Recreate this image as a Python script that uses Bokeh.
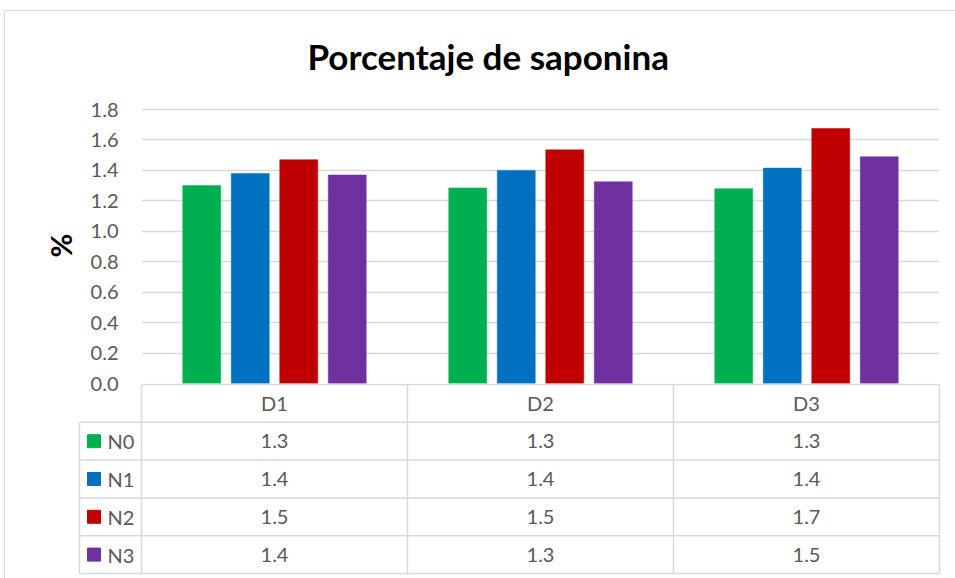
import numpy as np
from bokeh.plotting import figure
from bokeh.models import Range1d, FixedTicker, NumeralTickFormatter, Div
from bokeh.embed import file_html
from bokeh.resources import INLINE
from bokeh.core.properties import value

# ---------------- data ----------------
categories = ["D1", "D2", "D3"]
series = ["N0", "N1", "N2", "N3"]
n0 = [1.30, 1.285, 1.28]
n1 = [1.38, 1.40, 1.415]
n2 = [1.47, 1.535, 1.675]
n3 = [1.37, 1.325, 1.49]
colors = ["#00B050", "#0070C0", "#C00000", "#7030A0"]
y_ticks = [0.0, 0.2, 0.4, 0.6, 0.8, 1.0, 1.2, 1.4, 1.6, 1.8]
title_text = "Porcentaje de saponina"
y_label = "%"

values = [n0, n1, n2, n3]

# ---------------- style / layout constants ----------------
FONT = "Lato"
GRAY = "#595959"
GRID = "#d9d9d9"
CAT_PX = 266.0            # pixels per category
BAR_W = 38 / CAT_PX       # bar width in category units
STEP = 48.5 / CAT_PX      # bar spacing in category units
LEG_W = 62 / CAT_PX       # legend column width in category units
NCAT = len(categories)
FRAME_W = int(NCAT * CAT_PX)
FRAME_H = 276
Y_END = 1.8 + 2 / 152.2
OVERLAP = 12

# ---------------- chart ----------------
p = figure(
    frame_width=FRAME_W, frame_height=FRAME_H,
    x_range=Range1d(0, NCAT), y_range=Range1d(0, Y_END),
    output_backend="svg", toolbar_location=None,
    min_border_left=141, min_border_right=0, min_border_top=107, min_border_bottom=OVERLAP,
    title=title_text,
)
p.outline_line_color = None
p.background_fill_color = None
p.border_fill_color = None
p.xaxis.visible = False
p.xgrid.visible = False
p.ygrid.grid_line_color = GRID
p.ygrid.grid_line_width = 1.5
p.yaxis.ticker = FixedTicker(ticks=y_ticks)
p.yaxis.formatter = NumeralTickFormatter(format="0.0")
p.yaxis.axis_line_color = None
p.yaxis.major_tick_line_color = None
p.yaxis.major_tick_out = 0
p.yaxis.major_tick_in = 0
p.yaxis.minor_tick_line_color = None
p.yaxis.major_label_text_font = FONT
p.yaxis.major_label_text_font_size = "20px"
p.yaxis.major_label_text_color = GRAY
p.yaxis.major_label_standoff = 23
p.yaxis.axis_label = y_label
p.yaxis.axis_label_text_font = FONT
p.yaxis.axis_label_text_font_size = "29px"
p.yaxis.axis_label_text_font_style = "bold"
p.yaxis.axis_label_text_color = "#000000"
p.yaxis.axis_label_standoff = 10

p.title.text_font = FONT
p.title.text_font_size = "35px"
p.title.text_font_style = "bold"
p.title.text_color = "#000000"
p.title.align = "left"
p.title.offset = 166
p.title.standoff = 62

for k, vals in enumerate(values):
    xs = [i + 0.5 + (k - 1.5) * STEP for i in range(NCAT)]
    p.vbar(x=xs, top=vals, width=BAR_W, bottom=0,
           fill_color=colors[k], line_color=colors[k], line_width=0.5)

# ---------------- data table ----------------
nrows = len(series) + 1
T_FRAME_H = 192
ROW_PX = (T_FRAME_H - 3) / nrows
t = figure(
    frame_width=FRAME_W + 65 + 3, frame_height=T_FRAME_H,
    x_range=Range1d(-65 / CAT_PX, NCAT + 3 / CAT_PX),
    y_range=Range1d(nrows + 2 / ROW_PX, -1 / ROW_PX),
    output_backend="svg", toolbar_location=None,
    min_border_left=76, min_border_right=0, min_border_top=0, min_border_bottom=0,
    styles={"margin-top": f"-{OVERLAP}px"},
)
t.outline_line_color = None
t.background_fill_color = None
t.border_fill_color = None
t.axis.visible = False
t.grid.visible = False

x0, y0, x1, y1 = [], [], [], []
# header top line
x0.append(0); y0.append(0); x1.append(NCAT); y1.append(0)
# row lines
for r in range(1, nrows + 1):
    x0.append(-LEG_W); y0.append(r); x1.append(NCAT); y1.append(r)
# column lines
for c in range(NCAT + 1):
    x0.append(c); y0.append(0); x1.append(c); y1.append(nrows)
x0.append(-LEG_W); y0.append(1); x1.append(-LEG_W); y1.append(nrows)
t.segment(x0=x0, y0=y0, x1=x1, y1=y1, line_color=GRID, line_width=1.5)

t.text(x=[i + 0.5 for i in range(NCAT)], y=[0.5] * NCAT, text=categories,
       text_align="center", text_baseline="middle", text_font=value(FONT),
       text_font_size="20px", text_color=GRAY)

for k, vals in enumerate(values):
    t.text(x=[i + 0.5 for i in range(NCAT)], y=[k + 1.5] * NCAT,
           text=[f"{v:.1f}" for v in vals],
           text_align="center", text_baseline="middle", text_font=value(FONT),
           text_font_size="20px", text_color=GRAY)

t.scatter(x=[-LEG_W + 14.5 / CAT_PX] * len(series), y=[k + 1.5 for k in range(len(series))],
          marker="square", size=13, fill_color=colors, line_color=colors)
t.text(x=[-LEG_W + 28 / CAT_PX] * len(series), y=[k + 1.5 for k in range(len(series))],
       text=series, text_align="left", text_baseline="middle", text_font=value(FONT),
       text_font_size="20px", text_color=GRAY)

# chart-area border (light gray, like the Excel chart frame)
frame_border = Div(text="", width=960, height=570, margin=0,
                   styles={"position": "absolute", "left": "4px", "top": "10px",
                           "border-left": "1px solid #d9d9d9",
                           "border-top": "1px solid #d9d9d9",
                           "pointer-events": "none"})

open("out.html", "w").write(file_html([p, t, frame_border], INLINE))
